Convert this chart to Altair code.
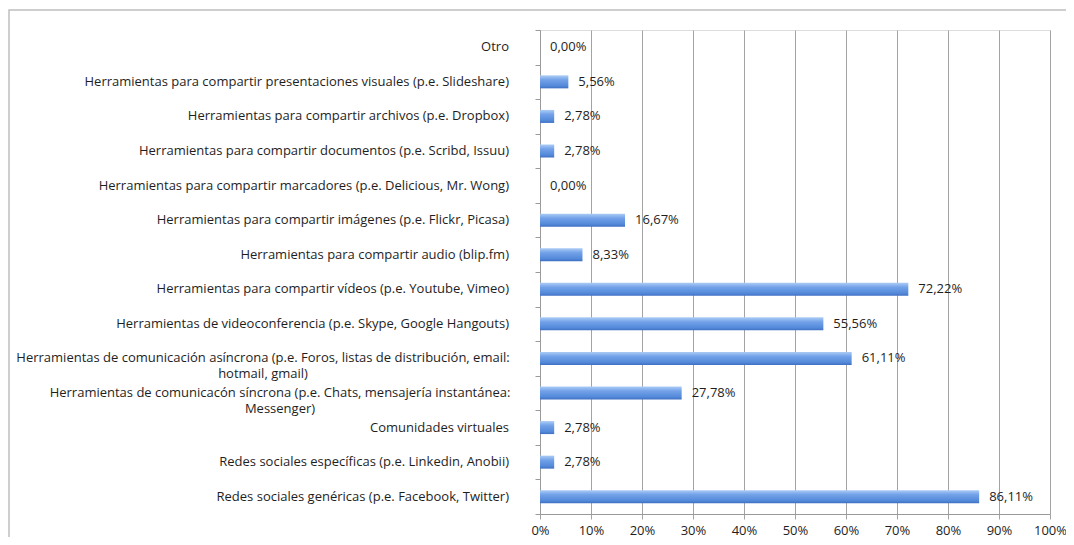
import altair as alt
import pandas as pd

categories = [
    "Otro",
    "Herramientas para compartir presentaciones visuales (p.e. Slideshare)",
    "Herramientas para compartir archivos (p.e. Dropbox)",
    "Herramientas para compartir documentos (p.e. Scribd, Issuu)",
    "Herramientas para compartir marcadores (p.e. Delicious, Mr. Wong)",
    "Herramientas para compartir imágenes (p.e. Flickr, Picasa)",
    "Herramientas para compartir audio (blip.fm)",
    "Herramientas para compartir vídeos (p.e. Youtube, Vimeo)",
    "Herramientas de videoconferencia (p.e. Skype, Google Hangouts)",
    "Herramientas de comunicación asíncrona (p.e. Foros, listas de distribución, email:\nhotmail, gmail)",
    "Herramientas de comunicacón síncrona (p.e. Chats, mensajería instantánea:\nMessenger)",
    "Comunidades virtuales",
    "Redes sociales específicas (p.e. Linkedin, Anobii)",
    "Redes sociales genéricas (p.e. Facebook, Twitter)",
]
values = [0.00, 5.56, 2.78, 2.78, 0.00, 16.67, 8.33, 72.22, 55.56, 61.11, 27.78, 2.78, 2.78, 86.11]
value_labels = [f"{v:.2f}".replace(".", ",") + "%" for v in values]
x_ticks = [0, 10, 20, 30, 40, 50, 60, 70, 80, 90, 100]

df = pd.DataFrame({"cat": categories, "val": values, "lab": value_labels})
multi_async = categories[9]
multi_sync = categories[10]

FONT = "Open Sans"
FS = 13
TXT = "#1e1e1e"
W, H = 510, 484

yscale = alt.Scale(domain=categories, paddingInner=0, paddingOuter=0)
y_enc = alt.Y("cat:N", sort=categories, scale=yscale,
              axis=alt.Axis(labels=False, title=None, tickBand="extent", tickSize=5,
                            tickColor="#9a9a9a", domainColor="#9a9a9a", grid=False))

base = alt.Chart(df)

bars = base.mark_bar(
    size=13,
    color=alt.Gradient(
        gradient="linear", x1=0, y1=0, x2=0, y2=1,
        stops=[
            alt.GradientStop(color="#acccf5", offset=0),
            alt.GradientStop(color="#72a1e8", offset=0.35),
            alt.GradientStop(color="#548ada", offset=0.8),
            alt.GradientStop(color="#3f6fc2", offset=1),
        ],
    ),
).encode(
    x=alt.X("val:Q", scale=alt.Scale(domain=[0, 100]),
            axis=alt.Axis(values=x_ticks, labelExpr="datum.value + '%'", title=None,
                          grid=True, gridColor="#a3a3a3", gridWidth=1,
                          tickSize=5, tickColor="#a3a3a3", domainColor="#9a9a9a",
                          labelFont=FONT, labelFontSize=FS, labelColor=TXT,
                          labelPadding=5, labelFlush=False)),
    y=y_enc,
)

vals = base.mark_text(align="left", baseline="middle", dx=10, font=FONT, fontSize=FS,
                      color=TXT).encode(
    x="val:Q", y=alt.Y("cat:N", sort=categories), text="lab:N")

single = base.transform_filter(
    (alt.datum.cat != multi_async) & (alt.datum.cat != multi_sync)
).mark_text(align="right", baseline="middle", font=FONT, fontSize=FS, color=TXT).encode(
    x=alt.value(-31), y=alt.Y("cat:N", sort=categories), text="cat:N")

lab_async = base.transform_filter(alt.datum.cat == multi_async).mark_text(
    align="center", baseline="middle", font=FONT, fontSize=FS, color=TXT,
    lineBreak="\n", lineHeight=16).encode(
    x=alt.value(-277), y=alt.Y("cat:N", sort=categories), text="cat:N")

lab_sync = base.transform_filter(alt.datum.cat == multi_sync).mark_text(
    align="center", baseline="middle", font=FONT, fontSize=FS, color=TXT,
    lineBreak="\n", lineHeight=16).encode(
    x=alt.value(-260), y=alt.Y("cat:N", sort=categories), text="cat:N")

frame = alt.Chart(pd.DataFrame({"f": [0]})).mark_rect(
    filled=False, stroke="#bfbfbf", strokeWidth=1.5).encode(
    x=alt.value(-531), x2=alt.value(700), y=alt.value(-20), y2=alt.value(700))

chart = alt.layer(frame, bars, vals, single, lab_async, lab_sync).properties(
    width=W, height=H,
    autosize=alt.AutoSizeParams(type="none"),
    padding={"left": 532, "top": 22, "right": 16, "bottom": 23},
).configure_view(strokeWidth=0).configure(background="white")

chart.save("out.html", embed_options={"renderer": "svg", "actions": False})
